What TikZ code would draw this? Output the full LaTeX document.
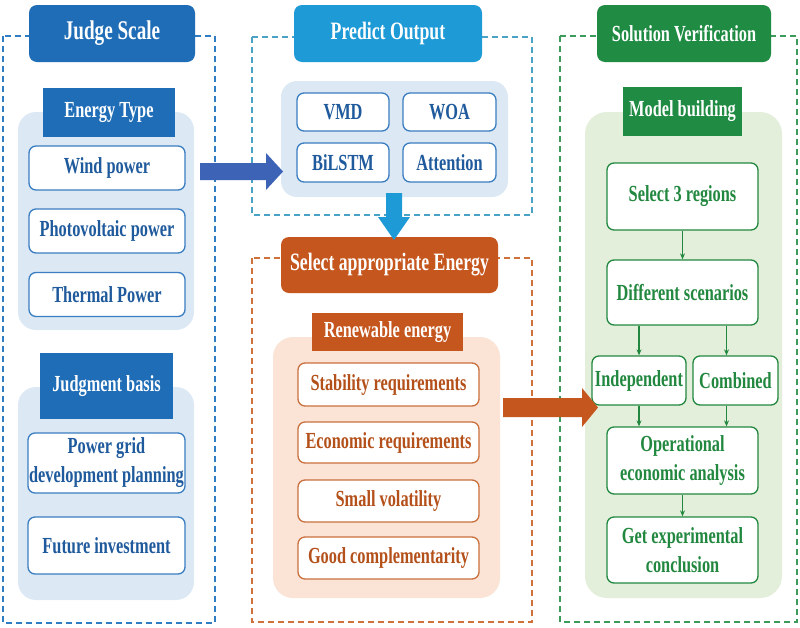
\documentclass[tikz,border=0pt]{standalone}
\usepackage{fontspec}
\setmainfont[FakeStretch=0.71]{Liberation Serif}
\usetikzlibrary{arrows.meta}
\definecolor{dblue}{HTML}{1F6DB6}
\definecolor{pblue}{HTML}{DCE9F5}
\definecolor{bbord}{HTML}{3A7DC0}
\definecolor{btext}{HTML}{1F5A9C}
\definecolor{dashL}{HTML}{2F7EC4}
\definecolor{cyanh}{HTML}{1E9AD6}
\definecolor{dashM}{HTML}{4AA2C6}
\definecolor{arrblue}{HTML}{3C63B6}
\definecolor{oh}{HTML}{C5561E}
\definecolor{op}{HTML}{FBE3D6}
\definecolor{otext}{HTML}{B4501A}
\definecolor{obord}{HTML}{C8703E}
\definecolor{odash}{HTML}{D0703A}
\definecolor{gh}{HTML}{1F8B43}
\definecolor{gp}{HTML}{E3EFDA}
\definecolor{gtext}{HTML}{22883F}
\definecolor{gdash}{HTML}{3C9A5A}
\tikzset{
 dashbox/.style={dash pattern=on 6pt off 4pt, line width=1.4pt},
 hdr/.style={rounded corners=8pt, text=white, inner sep=0pt, font=\bfseries\fontsize{25}{29}\selectfont},
 subhdr/.style={text=white, inner sep=0pt, font=\bfseries\fontsize{23}{27}\selectfont},
 box/.style={rounded corners=7pt, fill=white, line width=1.3pt, inner sep=0pt, align=center, font=\bfseries\fontsize{23}{29}\selectfont},
 bbox/.style={box, draw=bbord, text=btext},
 obox/.style={box, draw=obord, text=otext},
 gbox/.style={box, draw=gtext, text=gtext},
 garrow/.style={draw=gtext, line width=1.2pt, -{Stealth[length=6pt,width=5pt]}},
}
\begin{document}
\begin{tikzpicture}[x=1pt,y=-1pt]
\useasboundingbox (0,0) rectangle (800,627);
\fill[white] (0,0) rectangle (800,627);
% dashed frames
\draw[dashbox, dashL] (3,36) rectangle (215,623);
\draw[dashbox, dashM] (252,37) rectangle (532,215);
\draw[dashbox, odash] (252,258) rectangle (532,622);
\draw[dashbox, gdash] (560,36) rectangle (797,622);
% panels
\fill[pblue, rounded corners=18pt] (18,112) rectangle (194,330);
\fill[pblue, rounded corners=18pt] (18,387) rectangle (194,600);
\fill[pblue, rounded corners=16pt] (281,81) rectangle (508,197);
\fill[op, rounded corners=20pt] (273,337) rectangle (500,598);
\fill[gp, rounded corners=22pt] (585,112) rectangle (782,598);
% left column
\node[hdr, fill=dblue, minimum width=166, minimum height=57, font=\bfseries\fontsize{27}{31}\selectfont] (js) at (112,33.5) {Judge Scale};
\node[subhdr, fill=dblue, minimum width=132, minimum height=49] (et) at (109,112.5) {Energy Type};
\node[bbox, minimum width=156, minimum height=44] (wind) at (107,168) {Wind power};
\node[bbox, minimum width=156, minimum height=44] (pv) at (107,231) {Photovoltaic power};
\node[bbox, minimum width=156, minimum height=44] (th) at (107,294.5) {Thermal Power};
\node[subhdr, fill=dblue, minimum width=133, minimum height=66] (jb) at (106.5,386) {Judgment basis};
\node[bbox, minimum width=157, minimum height=60] (pg) at (106.5,463) {Power grid\\development planning};
\node[bbox, minimum width=157, minimum height=57] (fi) at (106.5,545.5) {Future investment};
% middle column
\node[hdr, fill=cyanh, minimum width=188, minimum height=57] (po) at (388,33.5) {Predict Output};
\node[bbox, minimum width=92, minimum height=38] (vmd) at (343,112) {VMD};
\node[bbox, minimum width=93, minimum height=38] (woa) at (449.5,112) {WOA};
\node[bbox, minimum width=92, minimum height=39] (bil) at (343,162.5) {BiLSTM};
\node[bbox, minimum width=93, minimum height=39] (att) at (449.5,162.5) {Attention};
\node[hdr, fill=oh, minimum width=217, minimum height=56] (sae) at (389.5,265) {Select appropriate Energy};
\node[subhdr, fill=oh, minimum width=151, minimum height=38] (re) at (387.5,332) {Renewable energy};
\node[obox, minimum width=181, minimum height=43] (st) at (388.5,384.5) {Stability requirements};
\node[obox, minimum width=181, minimum height=41] (ec) at (388.5,442.5) {Economic requirements};
\node[obox, minimum width=181, minimum height=42] (sv) at (388.5,501) {Small volatility};
\node[obox, minimum width=181, minimum height=42] (gc) at (388.5,558) {Good complementarity};
% right column
\node[hdr, fill=gh, minimum width=174, minimum height=57, font=\bfseries\fontsize{23}{27}\selectfont] (sol) at (684,33.5) {Solution Verification};
\node[subhdr, fill=gh, minimum width=119, minimum height=49] (mb) at (682.5,111.5) {Model building};
\node[gbox, minimum width=151, minimum height=67] (s3) at (682.5,196.5) {Select 3 regions};
\node[gbox, minimum width=151, minimum height=65] (ds) at (682.5,292.5) {Different scenarios};
\node[gbox, minimum width=94, minimum height=49] (ind) at (639,380.5) {Independent};
\node[gbox, minimum width=85, minimum height=49] (comb) at (735.5,380.5) {Combined};
\node[gbox, minimum width=151, minimum height=67] (opa) at (682.5,460.5) {Operational\\economic analysis};
\node[gbox, minimum width=151, minimum height=66] (gec) at (682.5,550) {Get experimental\\conclusion};
% green connectors
\draw[garrow] (s3.south) -- (ds.north);
\draw[garrow] (ds.south -| ind.north) -- (ind.north);
\draw[garrow] ([xshift=-9pt]ds.south -| comb.north) -- ([xshift=-9pt]comb.north);
\draw[garrow] (ind.south) -- (ind.south |- opa.north);
\draw[garrow] ([xshift=-9pt]comb.south) -- ([xshift=-9pt]comb.south |- opa.north);
\draw[garrow] (opa.south) -- (gec.north);
% block arrows
\fill[arrblue] (200,163) -- (266,163) -- (266,153) -- (283,171.5) -- (266,190) -- (266,180) -- (200,180) -- cycle;
\fill[cyanh] (386,193) -- (402,193) -- (402,217) -- (410,217) -- (394,240) -- (378,217) -- (386,217) -- cycle;
\fill[oh] (503,398) -- (582,398) -- (582,388) -- (598,407.5) -- (582,427) -- (582,417) -- (503,417) -- cycle;
\end{tikzpicture}
\end{document}
